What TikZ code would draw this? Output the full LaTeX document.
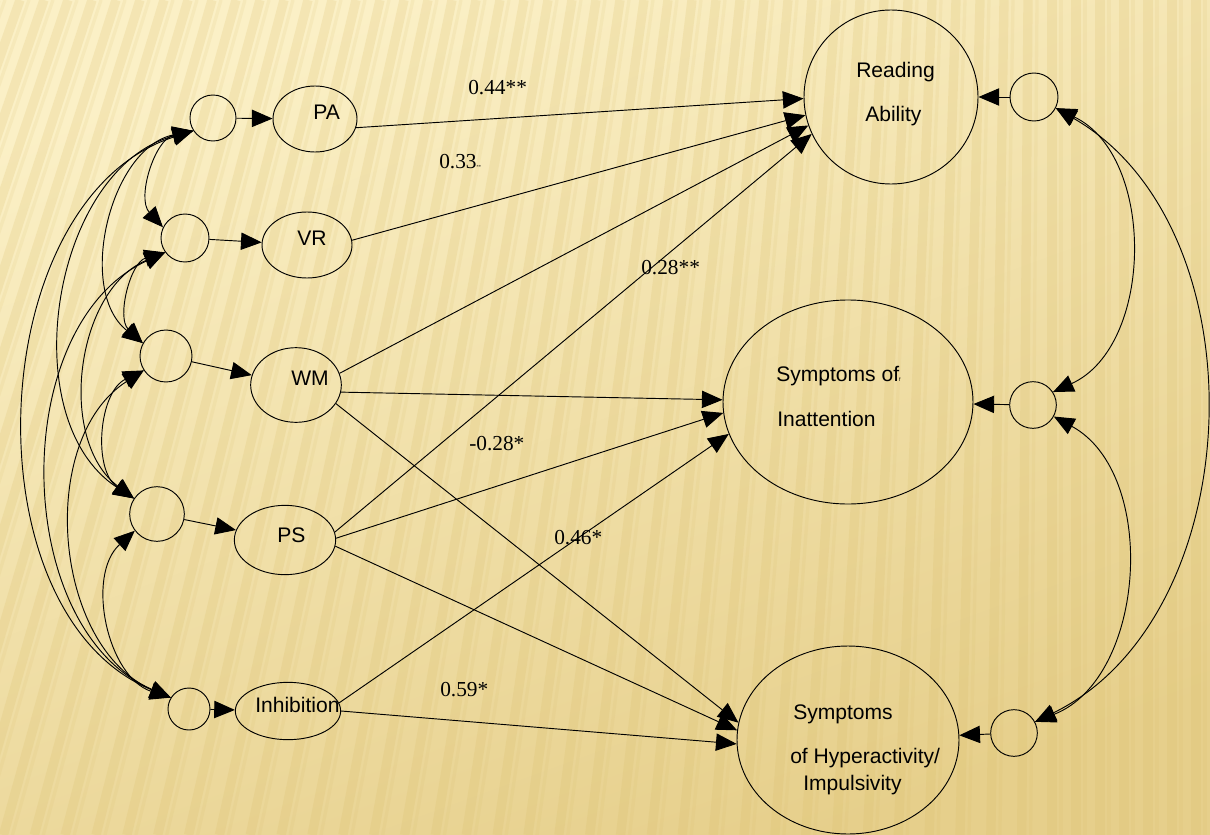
\documentclass[tikz,border=0pt]{standalone}
\usepackage{fontspec}
\setmainfont{Liberation Serif}
\setsansfont{Liberation Sans}
\usetikzlibrary{shapes.geometric,arrows.meta}
\definecolor{bgtop}{HTML}{FBF0C6}
\definecolor{bgmid}{HTML}{F5E5AE}
\definecolor{bgdeep}{HTML}{E6CF8B}
\definecolor{stripecol}{HTML}{D8BC68}
\tikzset{
  err/.style={circle,draw=black,line width=0.7pt,inner sep=0pt},
  lat/.style={ellipse,draw=black,line width=0.7pt,inner sep=0pt},
  lbl/.style={font=\sffamily\fontsize{15.8}{18}\selectfont,inner sep=0pt,anchor=base west},
  coef/.style={font=\rmfamily\fontsize{16}{18}\selectfont,inner sep=0pt,anchor=base west},
}
\begin{document}
\begin{tikzpicture}[x=0.75pt,y=0.75pt,>={Triangle[length=15.5pt,width=13pt]}]
      \useasboundingbox (0,0) rectangle (1210,-835);
      \begin{scope}
      \clip (0,0) rectangle (1210,-835);
      \shade[top color=bgtop,middle color=bgmid,bottom color=bgdeep,shading angle=20] (0,0) rectangle (1210,-835);
      \foreach \s in {-340,-316,...,1230}{
        \pgfmathsetmacro\tilt{max(0,300*(1-\s/1050))}
        \draw[draw=stripecol,opacity=0.2,line width=7pt] (\s,0) -- (\s-\tilt,-835);
        \draw[draw=stripecol,opacity=0.12,line width=2.5pt] (\s+9,0) -- (\s+9-\tilt,-835);
      }
      \end{scope}
      \begin{scope}[every node/.style={err}]
      \node[minimum size=34.5pt] (e1) at (213,-118) {};
      \node[minimum size=36pt] (e2) at (185,-238) {};
      \node[minimum size=39pt] (e3) at (166,-356) {};
      \node[minimum size=41pt] (e4) at (157,-514) {};
      \node[minimum size=31.5pt] (e5) at (189,-709) {};
      \node[minimum size=36pt] (e6) at (1034,-97) {};
      \node[minimum size=35pt] (e7) at (1033,-405) {};
      \node[minimum size=35pt] (e8) at (1014,-733) {};
      \end{scope}
      \begin{scope}[every node/.style={lat}]
      \node[minimum width=63pt,minimum height=49.5pt] (pa) at (315,-119) {};
      \node[minimum width=67.5pt,minimum height=49.5pt] (vr) at (307,-245) {};
      \node[minimum width=68pt,minimum height=56pt] (wm) at (296,-385) {};
      \node[minimum width=76pt,minimum height=52pt] (ps) at (285,-540) {};
      \node[minimum width=79pt,minimum height=43pt] (inh) at (288,-711) {};
      \node[circle,minimum size=130.5pt] (ra) at (891,-97) {};
      \node[minimum width=187.5pt,minimum height=153pt] (inatt) at (848,-402) {};
      \node[minimum width=166.5pt,minimum height=141pt] (hyp) at (848,-740) {};
      \end{scope}
      \node[lbl] (pa-t) at (313,-119) {PA};
      \node[lbl] (vr-t) at (297,-245) {VR};
      \node[lbl] (wm-t) at (291,-385) {WM};
      \node[lbl] (ps-t) at (277,-542) {PS};
      \node[lbl] (inh-t) at (255,-712) {Inhibition};
      \node[lbl] (ra-t1) at (856,-77) {Reading};
      \node[lbl] (ra-t2) at (865,-121) {Ability};
      \node[lbl] (inatt-t1) at (776,-381) {Symptoms of{\fontsize{4}{4}\selectfont f}};
      \node[lbl] (inatt-t2) at (777,-426) {Inattention};
      \node[lbl] (hyp-t1) at (793,-719) {Symptoms};
      \node[lbl] (hyp-t2) at (790,-763) {of Hyperactivity/};
      \node[lbl] (hyp-t3) at (803,-790) {Impulsivity};
      \node[coef] (c1) at (468,-94) {0.44**};
      \node[coef] (c2) at (439,-168) {0.33{\fontsize{3.5}{4}\selectfont **}};
      \node[coef] (c3) at (641,-274) {0.28**};
      \node[coef] (c4) at (469,-450) {-0.28*};
      \node[coef] (c5) at (554,-544) {0.46*};
      \node[coef] (c6) at (440,-696) {0.59*};
      \begin{scope}[every edge/.style={draw=black,line width=0.7pt,->}]
      \path (e1) edge (pa);
      \path (e2) edge (vr);
      \path (e3) edge (wm);
      \path (e4) edge (ps);
      \path (e5) edge (inh);
      \path (e6) edge (ra);
      \path (e7) edge (inatt);
      \path (e8) edge (hyp);
      \path (pa.-12) edge (ra.181);
      \path (vr.6) edge (ra.192);
      \path (wm.15) edge (ra.199);
      \path (ps.9) edge (ra.205);
      \path (wm.-9) edge (inatt.179);
      \path (ps.2) edge (inatt.185);
      \path (inh.9) edge (inatt.195);
      \path (wm.-25) edge (hyp.171);
      \path (ps.-7) edge (hyp.175);
      \path (inh.0) edge (hyp.182);
      \end{scope}
      \begin{scope}[every edge/.style={draw=black,line width=0.7pt,<->}]
      \path (e1.213) edge[bend right=60] (e2.154);
      \path (e1.213) edge[bend right=65] (e3.151);
      \path (e1.213) edge[bend right=66] (e4.146);
      \path (e1.213) edge[bend right=70] (e5.148);
      \path (e2.216) edge[bend right=60] (e3.151);
      \path (e2.216) edge[bend right=60] (e4.146);
      \path (e2.216) edge[bend right=66] (e5.148);
      \path (e3.213) edge[bend right=60] (e4.146);
      \path (e3.213) edge[bend right=62] (e5.148);
      \path (e4.217) edge[bend right=60] (e5.148);
      \path (e6.-27) edge[bend left=65] (e7.33);
      \path (e6.-27) edge[bend left=62] (e8.28);
      \path (e7.-29) edge[bend left=65] (e8.28);
      \end{scope}
\end{tikzpicture}
\end{document}
